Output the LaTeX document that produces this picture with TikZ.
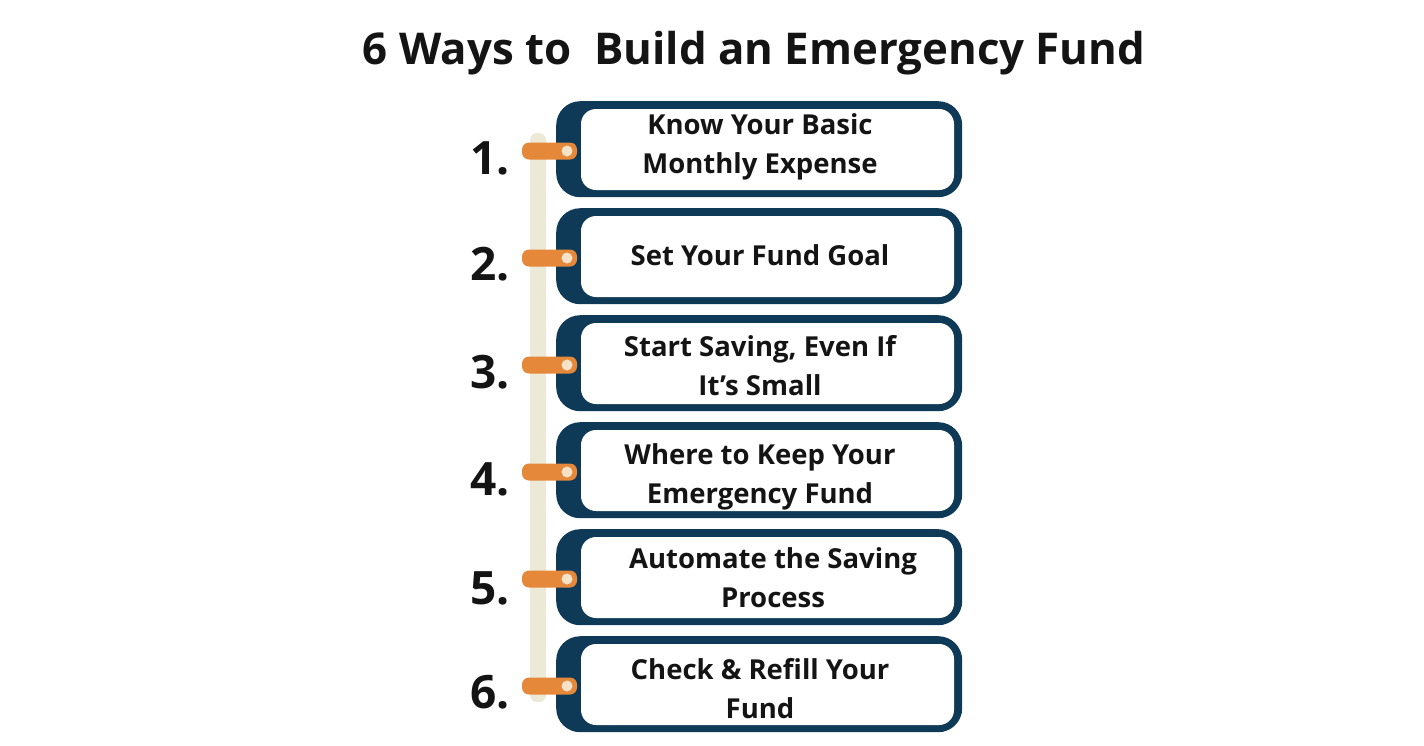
\documentclass[tikz,border=0pt]{standalone}
\usepackage{fontspec}
\setmainfont{Open Sans}
\definecolor{navy}{HTML}{0E3A58}
\definecolor{tab}{HTML}{E5883A}
\definecolor{bar}{HTML}{ECE9D6}
\definecolor{dot}{HTML}{F6E2C6}
\tikzset{
  outerbox/.style={fill=navy, rounded corners=24pt, minimum width=406pt, minimum height=96pt, inner sep=0pt},
  label/.style={font=\bfseries\fontsize{27.5}{39}\selectfont, align=center, text=black!92},
  num/.style={font=\bfseries\fontsize{46}{50}\selectfont, text=black!92},
  tabbox/.style={fill=tab, rounded corners=7pt, minimum width=55pt, minimum height=17pt, inner sep=0pt},
  tabdot/.style={circle, fill=dot, minimum size=11pt, inner sep=0pt},
}
\begin{document}
\begin{tikzpicture}[x=1pt,y=-1pt]
\useasboundingbox (0,0) rectangle (1424,745);
\node[font=\bfseries\fontsize{43.8}{50}\selectfont, text=black!92] (title) at (754,53) {6 Ways to\ \ Build an Emergency Fund};
% vertical bar
\fill[bar, rounded corners=7pt] (530,133) rectangle (546,702);
\foreach \i/\y/\ny in {1/101/158, 2/208/264, 3/315/372, 4/422/479, 5/529/588, 6/636/692} {
  \node[outerbox, anchor=north west] (o\i) at (556,\y) {};
  \fill[white, rounded corners=15pt] (581,\y+8) rectangle (954,\y+89);
  \node[tabbox] (t\i) at (549.5,\y+50) {};
  \node[tabdot] (d\i) at (567,\y+50) {};
  \node[num] (n\i) at (490,\ny) {\i.};
}
\node[label] (l1) at (760,147) {Know Your Basic\\Monthly Expense};
\node[label] (l2) at (760,255) {Set Your Fund Goal};
\node[label] (l3) at (760,366) {Start Saving, Even If\\It’s Small};
\node[label] (l4) at (760,477) {Where to Keep Your\\Emergency Fund};
\node[label] (l5) at (773,578) {Automate the Saving\\Process};
\node[label] (l6) at (760,689) {Check \& Refill Your\\Fund};
\end{tikzpicture}
\end{document}
